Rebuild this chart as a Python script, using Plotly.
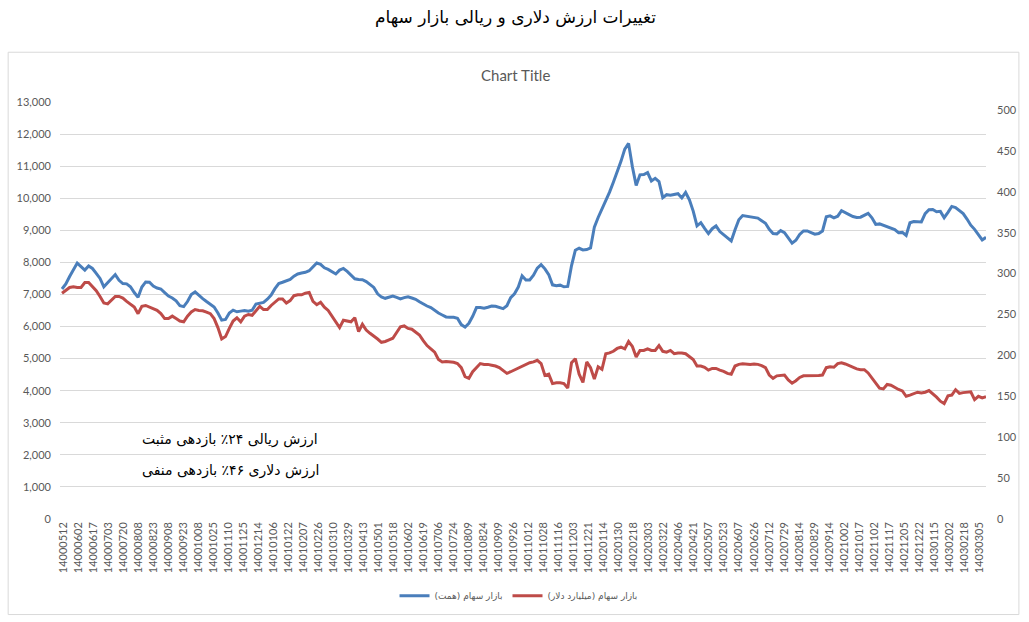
import numpy as np
import plotly.graph_objects as go

# ---------------- data ----------------
tick_labels = ["14000512","14000602","14000617","14000703","14000720","14000808","14000823",
    "14000908","14000923","14001008","14001025","14001110","14001125","14001214","14010106",
    "14010122","14010207","14010226","14010310","14010329","14010413","14010501","14010518",
    "14010602","14010619","14010706","14010724","14010809","14010824","14010909","14010926",
    "14011012","14011028","14011116","14011203","14011221","14020114","14020130","14020218",
    "14020303","14020322","14020406","14020421","14020507","14020523","14020607","14020626",
    "14020712","14020729","14020814","14020829","14020914","14021002","14021017","14021102",
    "14021117","14021205","14021222","14030115","14030202","14030218","14030305"]

# stock market value (thousand billion toman) - left axis
market_hemat = [
    7170,7330,7560,7770,7980,7870,7760,7890,7810,7660,7500,7240,7360,7500,7620,7440,7340,7330,7240,7060,
    6910,7230,7390,7380,7260,7200,7170,7060,6950,6890,6800,6650,6620,6780,7000,7080,6960,6870,6780,6690,
    6610,6420,6200,6220,6420,6510,6460,6480,6500,6480,6510,6700,6730,6750,6850,6980,7180,7340,7380,7420,
    7470,7570,7640,7670,7690,7740,7870,7980,7940,7830,7780,7710,7640,7760,7810,7720,7610,7490,7470,7460,
    7400,7310,7220,7020,6920,6880,6910,6950,6910,6860,6900,6930,6890,6850,6770,6700,6640,6590,6500,6420,
    6360,6300,6290,6290,6260,6060,5980,6100,6320,6590,6590,6570,6600,6640,6630,6600,6560,6650,6900,7020,
    7230,7580,7450,7450,7600,7820,7930,7800,7620,7300,7275,7290,7240,7250,7900,8380,8440,8390,8400,8450,
    9100,9400,9650,9950,10190,10500,10820,11150,11530,11710,10980,10400,10730,10740,10800,10540,10620,10520,10020,10110,
    10090,10110,10140,10010,10180,9950,9600,9140,9237,9060,8900,9050,9140,8960,8860,8770,8670,9020,9330,9460,
    9440,9423,9423,9380,9300,9220,9030,8900,8890,8990,8930,8780,8600,8690,8870,8980,8980,8930,8880,8900,
    8980,9420,9450,9390,9440,9610,9560,9490,9430,9400,9410,9480,9530,9390,9185,9200,9150,9110,9070,9020,
    8925,8935,8840,9237,9275,9275,9260,9520,9640,9650,9580,9590,9392,9560,9745,9710,9610,9520,9350,9160,
    9030,8850,8700,8780]

# stock market value (billion dollars) - right axis
market_usd = [
    276,280,283,284,283,283,289,289,284,279,272,264,263,268,272,272,270,266,262,259,
    251,260,261,259,257,255,251,245,245,248,245,242,241,248,253,256,255,254.6,253,251,
    245,234,220,223,233,242,246,241,248,250,249,255,260,256,256,261,265,269,269,264,
    267,273,274,274,276,277,266,262,265,259,255,248,240,234,243,242,241,246,229,238,
    231,227,224,220,216,217,219,221,228,235,236,233,232,228,225,218,212,208,204,195,
    192,192.5,192,191.5,190,185,174,172,180,185.5,190,189,189,188,187,185,181,178,180,182,
    185,187,189,191,192,194,190,175.5,177,165.5,166.5,166.5,165.5,160,191,196,177,167,192,185,
    171,186,183,202,203,205,208.5,210,208,217,211,198,206,206,208,206,206,212,205,204,
    206,202,203,203,202,199,195,187,187,185.5,182,184,184,182,180.5,178,177,187,189,189.8,
    189,189,189.5,189,187.5,185,176,172,175,175.5,176,170,166,169,173,175,175,175.5,175.5,175.5,
    176,185,186,185.5,190,191,189.5,187.5,185,183.5,182.5,182.5,178.5,172.5,166.5,160,159,164.5,163.5,160.5,
    158.3,156.5,150,151.5,153,155,154,155,157,153.5,149,144,141,150.5,151.5,158,153.5,154.5,155,155.5,
    146,150,148,149.5]

series_names = ["بازار سهام (همت)", "بازار سهام (میلیارد دلار)"]
left_ticks = list(range(0, 13001, 1000))
right_ticks = list(range(0, 501, 50))

main_title = "تغییرات ارزش دلاری و ریالی بازار سهام"
note_rial = "ارزش ریالی ۲۴٪ بازدهی مثبت"
note_usd = "ارزش دلاری ۴۶٪ بازدهی منفی"

# ---------------- figure ----------------
n = len(market_hemat)
x_vals = np.linspace(-0.066, 61.45, n)

BLUE = "#4A7EBB"
RED = "#BE4B48"
GRAY = "#595959"
GRID = "#D9D9D9"

fig = go.Figure()
fig.add_trace(go.Scatter(x=x_vals, y=market_hemat, mode="lines", name=series_names[0],
                         line=dict(color=BLUE, width=3), yaxis="y"))
fig.add_trace(go.Scatter(x=x_vals, y=market_usd, mode="lines", name=series_names[1],
                         line=dict(color=RED, width=3), yaxis="y2"))

W, H = 1029, 622
L, R, T, B = 60, 40, 102, 101
pw, ph = W - L - R, H - T - B

def px_x(p):
    return (p - L) / pw

def px_y(p):
    return (H - B - p) / ph

fig.update_layout(
    width=W, height=H,
    margin=dict(l=L, r=R, t=T, b=B, pad=0),
    paper_bgcolor="white", plot_bgcolor="white",
    showlegend=True,
    legend=dict(orientation="h", x=px_x(520), xanchor="center", y=px_y(598), yanchor="middle",
                font=dict(family="DejaVu Sans", size=9, color=GRAY), itemwidth=30,
                bgcolor="rgba(0,0,0,0)"),
    xaxis=dict(range=[-0.2, 61.45], tickmode="array", tickvals=list(range(len(tick_labels))),
               ticktext=tick_labels, tickangle=-90, showgrid=False, zeroline=False,
               showline=False, ticks="",
               tickfont=dict(family="Lato", size=11, color=GRAY)),
    yaxis=dict(range=[0, 13000], tickvals=left_ticks, tickformat=",", showgrid=True,
               gridcolor=GRID, gridwidth=1, zeroline=False, showline=False, ticks="",
               tickfont=dict(family="Lato", size=11, color=GRAY), ticklabelstandoff=8),
    yaxis2=dict(range=[0, 500 * 419 / 411], tickvals=right_ticks, overlaying="y", side="right",
                showgrid=False, zeroline=False, showline=False, ticks="",
                tickfont=dict(family="Lato", size=11, color=GRAY), ticklabelstandoff=10),
    font=dict(family="Lato"),
)

fig.add_shape(type="rect", xref="paper", yref="paper",
              x0=px_x(8), x1=px_x(1022), y0=px_y(617), y1=px_y(52),
              line=dict(color=GRID, width=1), fillcolor="rgba(0,0,0,0)", layer="below")

fig.add_annotation(xref="paper", yref="paper", x=px_x(517), y=px_y(17), text=main_title,
                   showarrow=False, xanchor="center", yanchor="middle",
                   font=dict(family="DejaVu Sans", size=17, color="black"))
fig.add_annotation(xref="paper", yref="paper", x=px_x(517), y=px_y(75), text="Chart Title",
                   showarrow=False, xanchor="center", yanchor="middle",
                   font=dict(family="Lato", size=15, color=GRAY))
fig.add_annotation(xref="paper", yref="paper", x=px_x(140), y=px_y(441), text=note_rial,
                   showarrow=False, xanchor="left", yanchor="middle",
                   font=dict(family="DejaVu Sans", size=14, color="black"))
fig.add_annotation(xref="paper", yref="paper", x=px_x(140), y=px_y(472), text=note_usd,
                   showarrow=False, xanchor="left", yanchor="middle",
                   font=dict(family="DejaVu Sans", size=14, color="black"))

fig.write_html("out.html")
